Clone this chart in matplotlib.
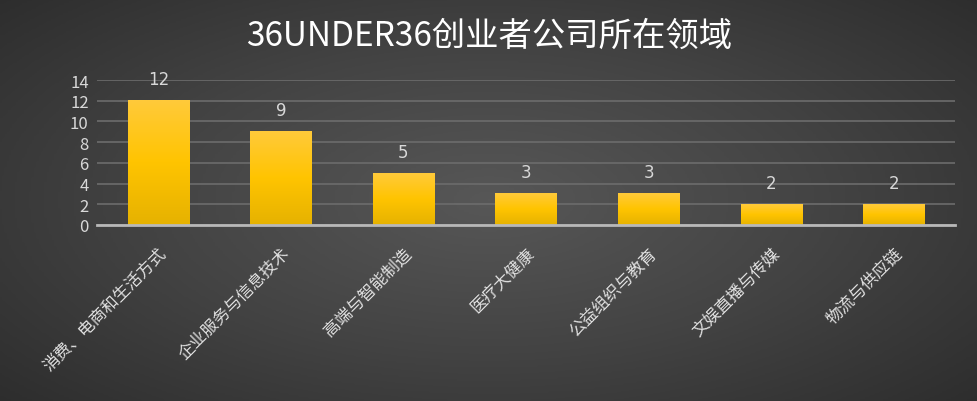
import numpy as np
import matplotlib
matplotlib.use("Agg")
import matplotlib.pyplot as plt
from matplotlib.colors import LinearSegmentedColormap

plt.rcParams['font.family'] = ['Noto Sans CJK SC', 'DejaVu Sans']

categories = ['消费、电商和生活方式', '企业服务与信息技术', '高端与智能制造', '医疗大健康',
              '公益组织与教育', '文娱直播与传媒', '物流与供应链']
counts = [12, 9, 5, 3, 3, 2, 2]
yticks = [0, 2, 4, 6, 8, 10, 12, 14]

fig = plt.figure(figsize=(9.78, 4.02), dpi=100)

# radial dark gray background
bg = fig.add_axes([0, 0, 1, 1])
gx, gy = np.meshgrid(np.linspace(-1, 1, 400), np.linspace(-1, 1, 200))
r = np.sqrt((gx / 1.0) ** 2 + (gy / 1.1) ** 2)
bg_cmap = LinearSegmentedColormap.from_list('bg', ['#575757', '#434343', '#2c2c2c'])
bg.imshow(r, cmap=bg_cmap, aspect='auto', extent=[0, 1, 0, 1], vmin=0, vmax=1.4)
bg.axis('off')

ax = fig.add_axes([97 / 978, (402 - 226) / 402, (955 - 97) / 978, (226 - 81) / 402])
ax.patch.set_alpha(0)

x = np.arange(len(categories))
bars = ax.bar(x, counts, width=0.5, color='#ffc000', zorder=3)

bar_cmap = LinearSegmentedColormap.from_list('bar', ['#e6b200', '#ffc400', '#ffca3a'])
grad = np.linspace(0, 1, 100).reshape(-1, 1)
for b in bars:
    x0, w, h = b.get_x(), b.get_width(), b.get_height()
    ax.imshow(grad, cmap=bar_cmap, origin='lower', aspect='auto',
              extent=[x0, x0 + w, 0, h], zorder=4)
    ax.text(x0 + w / 2, h + 1.2, str(int(h)), ha='center', va='bottom',
            color='#d8d8d8', fontsize=12, family='DejaVu Sans')

ax.set_xlim(-0.5, len(categories) - 0.5)
ax.set_ylim(0, 14)
ax.set_yticks(yticks)
ax.grid(axis='y', color='#6c6c6c', linewidth=1.2, zorder=0)
ax.set_axisbelow(True)
for s in ['top', 'right', 'left']:
    ax.spines[s].set_visible(False)
ax.spines['bottom'].set_color('#b8b8b8')
ax.spines['bottom'].set_linewidth(2)
ax.spines['bottom'].set_zorder(5)
ax.tick_params(axis='both', length=0, colors='#d8d8d8', labelsize=12)
ax.tick_params(axis='y', pad=6)
ax.set_xticks(x)
ax.set_xticklabels(categories, rotation=45, ha='right', rotation_mode='anchor',
                   fontsize=12, color='#e0e0e0')
ax.tick_params(axis='x', pad=14)

fig.text(0.5, 0.91, '36UNDER36创业者公司所在领域', ha='center', va='center',
         color='white', fontsize=24)

fig.savefig('out.png', dpi=100)
